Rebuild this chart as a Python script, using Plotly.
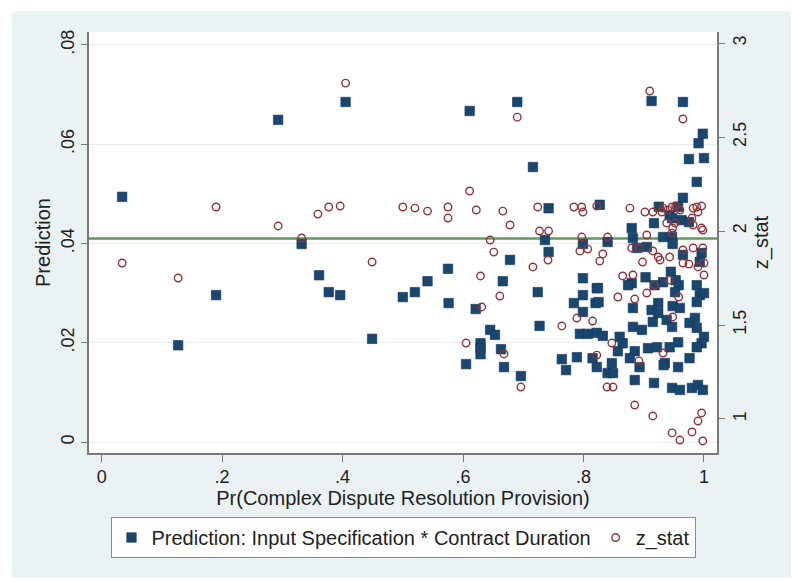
import plotly.graph_objects as go

# ---- data ----
pred_x = [0.034, 0.127, 0.190, 0.293, 0.332, 0.361, 0.377, 0.396, 0.405, 0.449,
          0.500, 0.520, 0.541, 0.575, 0.576, 0.605, 0.611, 0.621, 0.629, 0.629,
          0.629, 0.645, 0.653, 0.663, 0.666, 0.668, 0.678, 0.690, 0.696, 0.716,
          0.724, 0.727, 0.736, 0.742, 0.742, 0.764, 0.771, 0.784, 0.789, 0.794,
          0.799, 0.799, 0.799, 0.799, 0.807, 0.815, 0.822, 0.824, 0.820,
          0.913, 0.965, 0.998, 0.991, 0.975, 1.000, 0.988, 0.965, 0.925, 0.827,
          0.957, 0.943, 0.947, 0.963, 0.975, 0.917, 0.880, 0.932, 0.947, 0.882,
          0.840, 0.948, 0.905, 0.889, 0.996, 0.965, 0.993, 0.945, 0.903, 0.953,
          0.932, 0.880, 0.958, 0.988, 0.874, 0.918, 0.822, 0.952, 0.993, 1.000,
          0.825, 0.988, 0.924, 0.882, 0.913, 0.948, 0.960, 0.924, 0.985, 0.938,
          0.915, 0.976, 0.882, 0.947, 0.988, 0.897, 0.822, 0.832, 0.860, 1.000,
          0.957, 0.996, 0.865, 0.907, 0.922, 0.943, 0.988, 0.885, 0.857, 0.877,
          0.976, 0.847, 0.935, 0.893, 0.957, 0.840, 0.849, 0.885, 0.917, 0.947,
          0.960, 0.980, 0.990, 0.998, 0.933]
pred_val = [0.0494, 0.0195, 0.0296, 0.0649, 0.0399, 0.0336, 0.0302, 0.0296, 0.0685, 0.0208,
            0.0292, 0.0302, 0.0324, 0.0349, 0.0280, 0.0157, 0.0667, 0.0268, 0.0199, 0.0189,
            0.0177, 0.0226, 0.0216, 0.0187, 0.0324, 0.0151, 0.0367, 0.0685, 0.0133, 0.0554,
            0.0302, 0.0234, 0.0407, 0.0471, 0.0383, 0.0167, 0.0145, 0.0280, 0.0171, 0.0218,
            0.0399, 0.0330, 0.0296, 0.0262, 0.0218, 0.0169, 0.0151, 0.0310, 0.0280,
            0.0687, 0.0685, 0.0621, 0.0602, 0.0570, 0.0572, 0.0524, 0.0492, 0.0474, 0.0478,
            0.0474, 0.0457, 0.0451, 0.0447, 0.0443, 0.0441, 0.0431, 0.0413, 0.0413, 0.0411,
            0.0403, 0.0399, 0.0393, 0.0391, 0.0381, 0.0377, 0.0363, 0.0343, 0.0332, 0.0326,
            0.0322, 0.0320, 0.0316, 0.0316, 0.0316, 0.0316, 0.0310, 0.0302, 0.0296, 0.0300,
            0.0282, 0.0282, 0.0280, 0.0270, 0.0266, 0.0274, 0.0270, 0.0260, 0.0250, 0.0246,
            0.0242, 0.0240, 0.0232, 0.0232, 0.0230, 0.0226, 0.0220, 0.0214, 0.0212, 0.0212,
            0.0201, 0.0199, 0.0199, 0.0189, 0.0191, 0.0191, 0.0191, 0.0183, 0.0183, 0.0169,
            0.0169, 0.0159, 0.0159, 0.0151, 0.0151, 0.0139, 0.0139, 0.0125, 0.0119, 0.0109,
            0.0105, 0.0109, 0.0115, 0.0105, 0.0155]

z_x = [0.034, 0.127, 0.190, 0.293, 0.332, 0.359, 0.377, 0.396, 0.405, 0.449,
       0.500, 0.520, 0.541, 0.575, 0.575, 0.611, 0.622, 0.666, 0.678, 0.645,
       0.651, 0.629, 0.661, 0.716, 0.724, 0.727, 0.742, 0.741, 0.784, 0.797,
       0.799, 0.797, 0.794, 0.807, 0.827, 0.832, 0.631, 0.605, 0.668, 0.696,
       0.764, 0.789, 0.815, 0.690,
       0.910, 0.965, 0.822, 0.877, 0.902, 0.915, 0.930, 0.932, 0.940, 0.947,
       0.953, 0.960, 0.982, 0.988, 0.996, 0.990, 0.938, 0.952, 0.980, 0.982,
       0.996, 0.948, 0.905, 0.947, 0.840, 0.880, 0.893, 0.915, 0.982, 0.998,
       0.965, 0.898, 0.924, 0.943, 0.927, 0.965, 0.975, 0.990, 1.000, 1.000,
       0.882, 0.865, 0.943, 0.918, 0.905, 0.958, 0.857, 0.885, 0.948, 0.847,
       0.822, 0.892, 0.932, 0.839, 0.849, 0.885, 0.915, 0.996, 0.990, 0.980,
       0.947, 0.960, 0.998, 0.998]
z_val = [1.830, 1.750, 2.128, 2.027, 1.963, 2.090, 2.128, 2.133, 2.787, 1.835,
         2.128, 2.122, 2.106, 2.128, 2.069, 2.213, 2.112, 2.106, 2.032, 1.952,
         1.888, 1.761, 1.654, 1.809, 2.128, 2.000, 2.000, 1.846, 2.128, 2.128,
         2.101, 1.968, 1.894, 1.904, 1.840, 1.878, 1.596, 1.404, 1.346, 1.170,
         1.495, 1.537, 1.521, 2.606,
         2.745, 2.596, 2.133, 2.122, 2.101, 2.101, 2.101, 2.122, 2.112, 2.128,
         2.133, 2.112, 2.122, 2.128, 2.133, 2.101, 2.043, 2.043, 2.069, 2.032,
         2.016, 2.016, 1.979, 1.989, 1.968, 1.910, 1.910, 1.894, 1.910, 1.910,
         1.899, 1.835, 1.862, 1.862, 1.846, 1.830, 1.824, 1.809, 1.830, 1.766,
         1.766, 1.761, 1.739, 1.713, 1.670, 1.649, 1.649, 1.638, 1.543, 1.404,
         1.340, 1.309, 1.351, 1.170, 1.170, 1.074, 1.016, 1.032, 0.989, 0.931,
         0.926, 0.888, 0.883, 2.005]

x_ticks = [0, 0.2, 0.4, 0.6, 0.8, 1]
x_ticktext = ["0", ".2", ".4", ".6", ".8", "1"]
y_ticks = [0, 0.02, 0.04, 0.06, 0.08]
y_ticktext = ["0", ".02", ".04", ".06", ".08"]
y2_ticks = [1, 1.5, 2, 2.5, 3]
y2_ticktext = ["1", "1.5", "2", "2.5", "3"]
z_crit = 1.96

NAVY = "#1a476f"
MAROON = "#90353b"
BG = "#eaf2f3"
AX = "#7a7a7a"
FONT = "Arial, Liberation Sans, sans-serif"

fig = go.Figure()
fig.add_trace(go.Scatter(
    x=pred_x, y=pred_val, mode="markers", yaxis="y",
    name="Prediction: Input Specification * Contract Duration",
    marker=dict(symbol="square", size=9.5, color=NAVY, line=dict(color="#13355a", width=0.6)),
))
fig.add_trace(go.Scatter(
    x=z_x, y=z_val, mode="markers", yaxis="y2",
    name="z_stat",
    marker=dict(symbol="circle-open", size=7.5, color=MAROON, line=dict(color=MAROON, width=1.4)),
))

# outer grey panel
fig.add_shape(type="rect", xref="paper", yref="paper",
              x0=-0.1226, x1=1.1178, y0=-0.2969, y1=1.0499,
              fillcolor=BG, line=dict(width=0), layer="below")
fig.add_shape(type="rect", xref="paper", yref="paper",
              x0=0, x1=1, y0=0, y1=1,
              fillcolor="white", line=dict(width=0), layer="below")
# reference line
fig.add_shape(type="line", xref="paper", yref="y2", x0=0, x1=1, y0=z_crit, y1=z_crit,
              line=dict(color="#5e9a5e", width=2.5), layer="below")

fig.update_layout(
    width=793, height=582,
    margin=dict(l=89, r=76, t=32, b=129),
    paper_bgcolor="white", plot_bgcolor="rgba(0,0,0,0)",
    font=dict(family=FONT, color="#222222", size=18),
    showlegend=True,
    legend=dict(orientation="h", x=0.5, xanchor="center", y=-0.152, yanchor="top",
                bgcolor="white", bordercolor="#8a8a8a", borderwidth=1,
                font=dict(size=20, family=FONT, color="#222222")),
    xaxis=dict(range=[-0.021, 1.0216], tickvals=x_ticks, ticktext=x_ticktext,
               showgrid=False, zeroline=False, showline=True, linecolor=AX, linewidth=1.5,
               ticks="outside", ticklen=7, tickcolor=AX, tickwidth=1.2,
               tickfont=dict(size=18),
               title=dict(text="Pr(Complex Dispute Resolution Provision)",
                          font=dict(size=20), standoff=0)),
    yaxis=dict(range=[-0.0022, 0.0826], tickvals=y_ticks, ticktext=y_ticktext,
               showgrid=True, gridcolor="#e9eeee", gridwidth=1, zeroline=False,
               showline=True, linecolor=AX, linewidth=1.5,
               ticks="outside", ticklen=6, tickcolor=AX, tickwidth=1.2,
               tickangle=-90, tickfont=dict(size=18),
               title=dict(text="Prediction", font=dict(size=20), standoff=2)),
    yaxis2=dict(range=[0.819, 3.059], tickvals=y2_ticks, ticktext=y2_ticktext,
                overlaying="y", side="right", showgrid=False, zeroline=False,
                showline=True, linecolor=AX, linewidth=1.5,
                ticks="outside", ticklen=6, tickcolor=AX, tickwidth=1.2,
                tickangle=-90, tickfont=dict(size=18),
                title=dict(text="z_stat", font=dict(size=20), standoff=0)),
)

fig.write_html("out.html")
